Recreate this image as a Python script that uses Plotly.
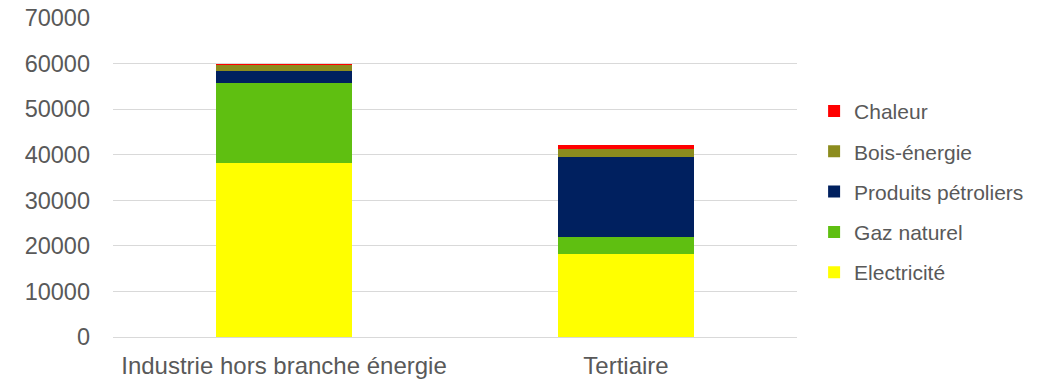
import plotly.graph_objects as go

categories = ["Industrie hors branche énergie", "Tertiaire"]

electricite = [38190, 18280]
gaz_naturel = [17610, 3730]
produits_petroliers = [2640, 17490]
bois_energie = [1310, 1750]
chaleur = [100, 800]

series = [
    ("Electricité", electricite, "#FFFF00"),
    ("Gaz naturel", gaz_naturel, "#5FBF11"),
    ("Produits pétroliers", produits_petroliers, "#00205F"),
    ("Bois-énergie", bois_energie, "#8C8C1E"),
    ("Chaleur", chaleur, "#FF0000"),
]

font_family = "Liberation Sans, Arial, sans-serif"
text_color = "#595959"

fig = go.Figure()
for i, (name, values, color) in enumerate(series):
    fig.add_trace(go.Bar(
        x=categories,
        y=values,
        name=name,
        legendgroup=name,
        legendrank=len(series) - i,
        marker=dict(color=color, line=dict(width=0)),
    ))

fig.update_layout(
    barmode="stack",
    bargap=0.6,
    width=1047,
    height=379,
    margin=dict(l=113, r=250, t=18, b=42),
    paper_bgcolor="white",
    plot_bgcolor="white",
    font=dict(family=font_family, size=21, color=text_color),
    showlegend=True,
    legend=dict(
        x=1.025,
        xanchor="left",
        y=0.455,
        yanchor="middle",
        traceorder="grouped",
        tracegroupgap=10,
        itemwidth=30,
        font=dict(family=font_family, size=21, color=text_color),
    ),
    xaxis=dict(
        showgrid=False,
        showline=True,
        linecolor="#d9d9d9",
        linewidth=1,
        ticks="",
        automargin=False,
        ticklabelstandoff=7,
        tickfont=dict(size=24),
    ),
    yaxis=dict(
        range=[0, 70000],
        tickvals=[0, 10000, 20000, 30000, 40000, 50000, 60000, 70000],
        ticktext=["0", "10000", "20000", "30000", "40000", "50000", "60000", "70000"],
        showgrid=True,
        gridcolor="#d9d9d9",
        gridwidth=1,
        zeroline=False,
        ticks="",
        automargin=False,
        ticklabelstandoff=22,
        tickfont=dict(size=23.5),
    ),
)

fig.write_html("out.html")
